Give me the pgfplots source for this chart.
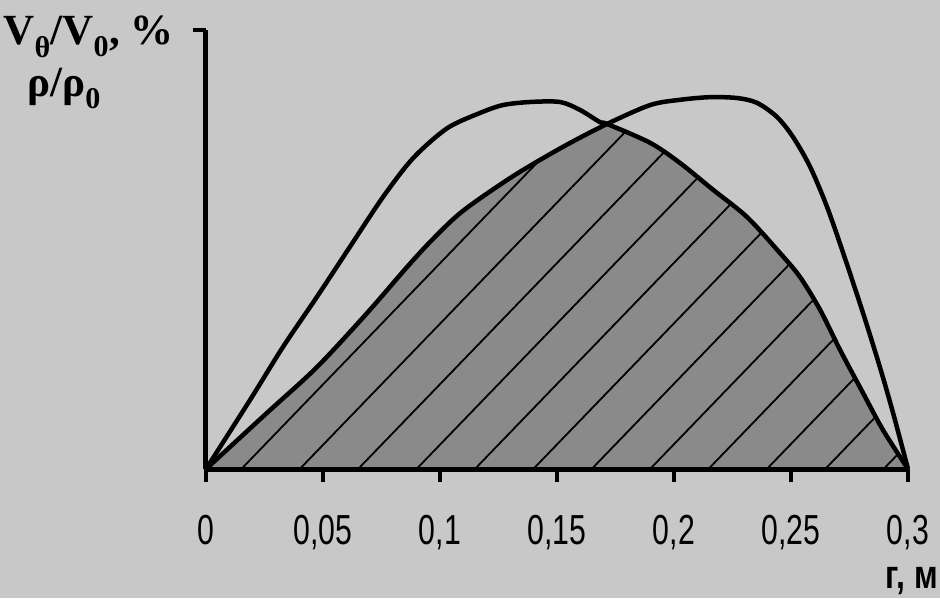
\documentclass[border=0pt]{standalone}
\usepackage{pgfplots}
\pgfplotsset{compat=1.18}
\usepackage{fontspec}
\setmainfont{Liberation Serif}
\newfontfamily\tickfont[FakeStretch=0.72]{Liberation Sans}
\newfontfamily\unitfont[FakeStretch=0.8]{Liberation Sans}
\usetikzlibrary{patterns.meta,backgrounds}
\definecolor{bg}{RGB}{200,200,200}
\definecolor{shade}{RGB}{138,138,138}
\begin{document}
\begin{tikzpicture}
\begin{axis}[name=ax, scale only axis, width=702pt, height=439pt,
  xmin=0, xmax=0.3, ymin=0, ymax=100,
  axis lines=left, axis line style={-, line width=5pt},
  axis on top, clip=false,
  xtick={0,0.05,0.1,0.15,0.2,0.25,0.3},
  xticklabels={0,{0,05},{0,1},{0,15},{0,2},{0,25},{0,3}},
  ytick={100}, yticklabels={},
  tick align=outside, major tick length=13pt,
  tick style={line width=4.5pt, black},
  xticklabel style={font=\tickfont\fontsize{42}{42}\selectfont, yshift=-30pt},
  xlabel={\unitfont\bfseries г, м},
  xlabel style={at={(rel axis cs:1,0)}, anchor=base east, xshift=30pt, yshift=-119pt,
    font=\fontsize{40}{40}\selectfont, inner sep=0pt},
  ylabel={V\textsubscript{θ}/V\textsubscript{0}, \%\\\hspace*{24pt}ρ/ρ\textsubscript{0}},
  ylabel style={rotate=-90, at={(rel axis cs:0,1)}, anchor=north east, align=left,
    xshift=-32pt, yshift=14pt, inner sep=0pt, font=\bfseries\fontsize{43}{52}\selectfont},
]
% shaded area under the lower of the two curves
\addplot[fill=shade, draw=none, smooth] coordinates {
(0,0) (0.0261,12.8) (0.0474,23.2) (0.0688,35.5) (0.0859,46.0) (0.0970,52.4)
(0.1098,58.8) (0.1312,66.7) (0.1526,73.4) (0.1714,78.6)
(0.1898,74.3) (0.2026,69.7) (0.2167,63.6) (0.2312,57.4) (0.2453,49.2)
(0.2539,43.7) (0.2625,36.2) (0.2710,27.1) (0.2808,17.3) (0.2893,8.9) (0.3,0)
} \closedcycle;
\addplot[pattern={Lines[angle=46, distance=42pt, line width=1.8pt]}, pattern color=black, draw=none, smooth] coordinates {
(0,0) (0.0261,12.8) (0.0474,23.2) (0.0688,35.5) (0.0859,46.0) (0.0970,52.4)
(0.1098,58.8) (0.1312,66.7) (0.1526,73.4) (0.1714,78.6)
(0.1898,74.3) (0.2026,69.7) (0.2167,63.6) (0.2312,57.4) (0.2453,49.2)
(0.2539,43.7) (0.2625,36.2) (0.2710,27.1) (0.2808,17.3) (0.2893,8.9) (0.3,0)
} \closedcycle;
% V_theta / V_0
\addplot[black, line width=4.5pt, smooth] coordinates {
(0,0) (0.0188,15.7) (0.0329,27.8) (0.0474,39.2) (0.0615,50.6) (0.0757,62.0)
(0.0885,70.8) (0.1030,77.6) (0.1171,81.1) (0.1269,82.9) (0.1385,83.6)
(0.1513,83.6) (0.1598,81.8) (0.1684,79.0) (0.1714,78.6) (0.1898,74.3)
(0.2026,69.7) (0.2167,63.6) (0.2312,57.4) (0.2453,49.2) (0.2539,43.7)
(0.2625,36.2) (0.2710,27.1) (0.2808,17.3) (0.2893,8.9) (0.3,0)
};
% rho / rho_0
\addplot[black, line width=4.5pt, smooth] coordinates {
(0,0) (0.0261,12.8) (0.0474,23.2) (0.0688,35.5) (0.0859,46.0) (0.0970,52.4)
(0.1098,58.8) (0.1312,66.7) (0.1526,73.4) (0.1714,78.6) (0.1898,82.9)
(0.2026,84.1) (0.2154,84.7) (0.2270,84.5) (0.2355,83.4) (0.2440,80.2)
(0.2509,75.6) (0.2582,68.8) (0.2654,59.7) (0.2723,49.2) (0.2808,35.5)
(0.2880,23.2) (0.2936,12.8) (0.3,0)
};
\end{axis}
\begin{scope}[on background layer]
\fill[bg] ([shift={(-206pt,-129pt)}]ax.south west) rectangle ([shift={(32pt,30pt)}]ax.north east);
\end{scope}
\end{tikzpicture}
\end{document}
